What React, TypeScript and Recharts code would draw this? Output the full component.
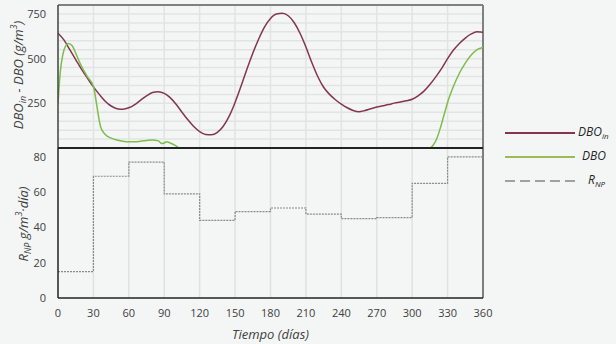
import React from 'react';
import { LineChart, Line, XAxis, YAxis, ReferenceLine } from 'recharts';

// DBO_in (g/m3), every 5 days
const dboInDays = [
  0, 5, 10, 15, 20, 25, 30, 35, 40, 45, 50, 55, 60, 65, 70, 75, 80, 85, 90, 95, 100, 105, 110, 115, 120,
  125, 130, 135, 140, 145, 150, 155, 160, 165, 170, 175, 180, 185, 190, 195, 200, 205, 210, 215, 220, 225,
  230, 235, 240, 245, 250, 255, 260, 265, 270, 275, 280, 285, 290, 295, 300, 305, 310, 315, 320, 325, 330,
  335, 340, 345, 350, 355, 360,
];
const dboInValues = [
  642, 605, 550, 495, 440, 390, 342, 300, 262, 235, 220, 217, 225, 243, 268, 292, 310, 315, 306, 282, 245,
  200, 158, 120, 92, 76, 74, 88, 122, 178, 255, 345, 440, 530, 610, 678, 725, 750, 754, 740, 702, 642, 565,
  478, 400, 340, 300, 270, 245, 225, 210, 203, 210, 220, 229, 236, 243, 251, 257, 264, 273, 292, 318, 355,
  398, 445, 500, 548, 585, 615, 638, 650, 648,
];

// DBO (g/m3)
const dboDays = [
  0, 2, 4, 6, 9, 12, 16, 20, 25, 30, 32, 34, 36, 40, 45, 50, 55, 60, 65, 70, 75, 80, 85, 88, 90, 92, 95,
  100, 103, 110, 150, 200, 250, 300, 315, 318, 321, 324, 327, 330, 335, 340, 345, 350, 355, 360,
];
const dboValues = [
  250, 430, 520, 565, 585, 572, 515, 455, 398, 345, 275, 190, 120, 75, 55, 45, 38, 35, 35, 38, 42, 45, 40,
  25, 28, 35, 28, 12, 0, 0, 0, 0, 0, 0, 0, 18, 55, 115, 185, 255, 345, 418, 475, 520, 550, 562,
];

// R_NP (g/m3·día), monthly steps
const rnpDays = [0, 30, 60, 90, 120, 150, 180, 210, 240, 270, 300, 330, 360];
const rnpValues = [15, 69, 77, 59, 44, 49, 51, 47.5, 45, 45.5, 65, 80, 80];

const xTicks = [0, 30, 60, 90, 120, 150, 180, 210, 240, 270, 300, 330, 360];
const xGrid = [30, 60, 90, 120, 150, 180, 210, 240, 270, 300, 330];
const topTicks = [0, 250, 500, 750];
const topGrid = [50, 100, 150, 200, 250, 300, 350, 400, 450, 500, 550, 600, 650, 700, 750];
const bottomTicks = [0, 20, 40, 60, 80];

const dboInData = dboInDays.map((t, i) => ({ t, v: dboInValues[i] }));
const dboData = dboDays.map((t, i) => ({ t, v: dboValues[i] }));
const rnpData = rnpDays.map((t, i) => ({ t, v: rnpValues[i] }));

const FONT = '"Open Sans", "Liberation Sans", sans-serif';
const TEXT = '#404040';
const MAROON = '#833552';
const GREEN = '#7ebc4c';
const GRID = '#e2e4e3';
const tickStyle = { fill: TEXT, fontSize: 11, fontFamily: FONT };

const TopYLabel = () => (
  <text
    transform="translate(18,75) rotate(-90)"
    textAnchor="middle"
    dominantBaseline="central"
    fill={TEXT}
    fontSize={13}
    fontStyle="italic"
    fontFamily={FONT}
  >
    DBO<tspan fontSize={9} dy={4}>in</tspan>
    <tspan dy={-4}> - DBO (g/m</tspan>
    <tspan fontSize={9} dy={-5}>3</tspan>
    <tspan dy={5}>)</tspan>
  </text>
);

// drawn inside the lower chart, which starts 147px down the page
const BottomYLabel = () => (
  <text
    transform="translate(23,77) rotate(-90)"
    textAnchor="middle"
    dominantBaseline="central"
    fill={TEXT}
    fontSize={13}
    fontStyle="italic"
    fontFamily={FONT}
  >
    R<tspan fontSize={9} dy={4}>NP</tspan>
    <tspan dy={-4}> g/m</tspan>
    <tspan fontSize={9} dy={-5}>3</tspan>
    <tspan dy={5}>·día)</tspan>
  </text>
);

const legendItems = [
  { name: 'DBO', sub: 'in', color: MAROON, dash: undefined, top: 126, textLeft: 578 },
  { name: 'DBO', sub: '', color: '#9bbb59', dash: undefined, top: 150, textLeft: 582 },
  { name: 'R', sub: 'NP', color: '#a0a0a0', dash: '10 5', top: 174, textLeft: 588 },
];

export default function App() {
  return (
    <div
      style={{
        position: 'absolute',
        left: 0,
        top: 0,
        width: 616,
        height: 344,
        background: '#f4f6f5',
        fontFamily: FONT,
        overflow: 'hidden',
      }}
    >
      <div style={{ position: 'absolute', left: 0, top: 0 }}>
        <LineChart width={616} height={149} margin={{ top: 5, right: 133, bottom: 1, left: 0 }}>
          <XAxis
            type="number"
            dataKey="t"
            domain={[0, 360]}
            ticks={xTicks}
            height={0}
            tick={false}
            tickLine={false}
            axisLine={false}
            allowDataOverflow
          />
          <YAxis
            type="number"
            domain={[0, 800]}
            ticks={topTicks}
            width={58}
            tickLine={false}
            tickSize={0}
            tickMargin={12}
            tick={tickStyle}
            axisLine={{ stroke: '#404040', strokeWidth: 1.5 }}
            label={<TopYLabel />}
            allowDataOverflow
          />
          {topGrid.map((v) => (
            <ReferenceLine key={`h${v}`} y={v} stroke={GRID} strokeWidth={1.5} />
          ))}
          {xGrid.map((v) => (
            <ReferenceLine key={`v${v}`} x={v} stroke={GRID} strokeWidth={1.5} />
          ))}
          <ReferenceLine y={800} stroke="#808080" strokeWidth={2} />
          <ReferenceLine x={360} stroke="#808080" strokeWidth={2} />
          <Line
            data={dboInData}
            dataKey="v"
            type="monotone"
            stroke={MAROON}
            strokeWidth={1.5}
            dot={false}
            isAnimationActive={false}
          />
          <Line
            data={dboData}
            dataKey="v"
            type="monotone"
            stroke={GREEN}
            strokeWidth={1.5}
            dot={false}
            isAnimationActive={false}
          />
        </LineChart>
      </div>

      <div style={{ position: 'absolute', left: 0, top: 147 }}>
        <LineChart width={616} height={197} margin={{ top: 1, right: 133, bottom: 0, left: 0 }}>
          <XAxis
            type="number"
            dataKey="t"
            domain={[0, 360]}
            ticks={xTicks}
            height={46}
            tickLine={false}
            tickSize={0}
            tickMargin={11}
            tick={tickStyle}
            axisLine={{ stroke: '#222', strokeWidth: 1.5 }}
            label={{
              value: 'Tiempo (días)',
              position: 'insideBottom',
              offset: 5,
              fill: TEXT,
              fontSize: 13,
              fontStyle: 'italic',
              fontFamily: FONT,
            }}
          />
          <YAxis
            type="number"
            domain={[0, 85]}
            ticks={bottomTicks}
            width={58}
            tickLine={false}
            tickSize={0}
            tickMargin={12}
            tick={tickStyle}
            axisLine={{ stroke: '#222', strokeWidth: 1.5 }}
            label={<BottomYLabel />}
          />
          {xGrid.map((v) => (
            <ReferenceLine key={`v${v}`} x={v} stroke="#e0e2e1" strokeWidth={1.5} />
          ))}
          <ReferenceLine x={360} stroke="#555" strokeWidth={1.5} />
          <ReferenceLine
            segment={[
              { x: 0, y: 85 },
              { x: 360, y: 85 },
            ]}
            stroke="#222"
            strokeWidth={2}
          />
          <Line
            data={rnpData}
            dataKey="v"
            type="stepAfter"
            stroke="#8a8a8a"
            strokeWidth={1.2}
            strokeDasharray="2 1"
            dot={false}
            isAnimationActive={false}
          />
        </LineChart>
      </div>

      {legendItems.map((item, i) => (
        <div key={i} style={{ position: 'absolute', left: 0, top: item.top, width: 616, height: 14 }}>
          <svg width={72} height={14} style={{ position: 'absolute', left: 504, top: 0 }}>
            <line
              x1={1}
              x2={71}
              y1={7}
              y2={7}
              stroke={item.color}
              strokeWidth={2.2}
              strokeDasharray={item.dash}
            />
          </svg>
          <div
            style={{
              position: 'absolute',
              left: item.textLeft,
              top: -2,
              fontSize: 12,
              fontStyle: 'italic',
              color: '#262626',
              lineHeight: '16px',
              whiteSpace: 'nowrap',
            }}
          >
            {item.name}
            {item.sub && <sub style={{ fontSize: 8, verticalAlign: '-3px' }}>{item.sub}</sub>}
          </div>
        </div>
      ))}
    </div>
  );
}
